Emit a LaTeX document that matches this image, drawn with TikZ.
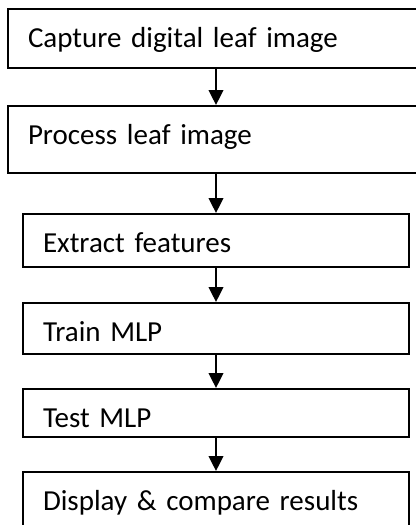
\documentclass[tikz,border=0pt]{standalone}
\usepackage{fontspec}
\setmainfont{Carlito}
\usetikzlibrary{arrows.meta}

\begin{document}
\begin{tikzpicture}[x=0.5pt,y=-0.5pt,
    stepbox/.style={draw,line width=0.85pt,anchor=north,align=left,
      inner xsep=10pt,inner ysep=0pt,text height=19.25pt,text depth=#1,
      font=\fontsize{14.5}{17}\selectfont},
    wide/.style={text width=188pt},
    narrow/.style={text width=173pt},
    flow/.style={-{Triangle[width=7.3pt,length=7.5pt]},line width=1pt}]
  \useasboundingbox (0,0) rectangle (416,525);

  \node[stepbox=10.25pt,wide] (capture) at (216,8) {Capture digital leaf image};
  \node[stepbox=14.25pt,wide] (process) at (216,105) {Process leaf image};
  \node[stepbox=7.25pt,narrow] (extract) at (216,213) {Extract features};
  \node[stepbox=6.25pt,narrow] (train) at (216,302) {Train MLP};
  \node[stepbox=4.75pt,narrow] (test) at (216,388) {Test MLP};
  \node[stepbox=8.75pt,narrow] (display) at (216,471) {Display \& compare results};

  \draw[flow] (capture.south) -- (process.north);
  \draw[flow] (process.south) -- (extract.north);
  \draw[flow] (extract.south) -- (train.north);
  \draw[flow] (train.south) -- (test.north);
  \draw[flow] (test.south) -- (display.north);
\end{tikzpicture}
\end{document}
